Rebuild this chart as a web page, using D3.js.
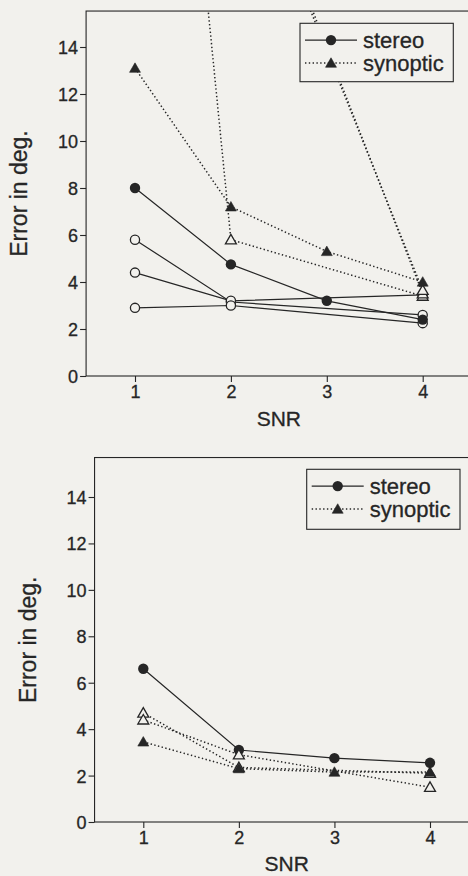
<!DOCTYPE html>
<html><head><meta charset="utf-8">
<script src="https://cdn.jsdelivr.net/npm/d3@7"></script>
<style>body{margin:0;background:#f2f1ed}svg{display:block}</style>
</head><body><svg id="c" width="468" height="876"></svg>
<script>
// ---------- data ----------
const snr = [1, 2, 3, 4];
const xTickLabels = ["1", "2", "3", "4"];
const yTickValues = [0, 2, 4, 6, 8, 10, 12, 14];
const legendLabels = ["stereo", "synoptic"];
const xTitle = "SNR";
const yTitle = "Error in deg.";

// top panel (null = no measurement at that SNR)
const topStereoFilled   = [8.0, 4.75, 3.2, 2.4];
const topStereoOpenA    = [5.8, 3.15, null, 2.6];
const topStereoOpenB    = [4.4, 3.2, null, 3.45];
const topStereoOpenC    = [2.9, 3.0, null, 2.25];
const topSynopticFilled = [13.1, 7.2, 5.3, 4.0];
const topSynopticOpenA  = [47, 5.8, null, 3.4];
const topSynopticOpenB  = [60, 24.5, null, 3.5];
const topSynopticOpenC  = [58, 24.0, null, 3.65];

// bottom panel
const botStereoFilled   = [6.6, 3.1, 2.75, 2.55];
const botSynopticFilled = [3.45, 2.3, 2.15, 2.15];
const botSynopticOpenA  = [4.7, 2.35, null, 2.1];
const botSynopticOpenB  = [4.4, 2.9, null, 1.5];

// ---------- drawing ----------
const INK = "#262626", BG = "#f2f1ed";
const FONT = "Liberation Sans, Arial, sans-serif";
const svg = d3.select("#c");
svg.append("rect").attr("width", 468).attr("height", 876).attr("fill", BG);

const panels = [
  { x1: 135, x4: 422.7, y0: 376, y14: 47, yTop: 15.53, xTitleY: 418, yTitleX: 19,
    legend: { x: 300, y: 23.3, w: 153.3, h: 58.4 },
    series: [
      { v: topStereoOpenA, kind: "stereo", filled: false },
      { v: topStereoOpenB, kind: "stereo", filled: false },
      { v: topStereoOpenC, kind: "stereo", filled: false },
      { v: topStereoFilled, kind: "stereo", filled: true },
      { v: topSynopticOpenA, kind: "synoptic", filled: false },
      { v: topSynopticOpenB, kind: "synoptic", filled: false },
      { v: topSynopticOpenC, kind: "synoptic", filled: false },
      { v: topSynopticFilled, kind: "synoptic", filled: true }
    ] },
  { x1: 143.3, x4: 430, y0: 822, y14: 497, yTop: 15.7, xTitleY: 863.5, yTitleX: 27.5,
    legend: { x: 306.7, y: 469.3, w: 153.3, h: 60 },
    series: [
      { v: botStereoFilled, kind: "stereo", filled: true },
      { v: botSynopticOpenA, kind: "synoptic", filled: false },
      { v: botSynopticOpenB, kind: "synoptic", filled: false },
      { v: botSynopticFilled, kind: "synoptic", filled: true }
    ] }
];

const triangle = d3.symbol().type(d3.symbolTriangle).size(52);

function marker(g, kind, filled, cx, cy) {
  if (kind === "stereo") {
    g.append("circle").attr("cx", cx).attr("cy", cy)
      .attr("r", filled ? 5.2 : 4.6)
      .attr("fill", filled ? INK : BG)
      .attr("stroke", INK).attr("stroke-width", filled ? 0 : 1.3);
  } else {
    g.append("path").attr("d", triangle)
      .attr("transform", `translate(${cx},${cy + 1})`)
      .attr("fill", filled ? INK : BG)
      .attr("stroke", INK).attr("stroke-width", filled ? 0.6 : 1.3);
  }
}
function lineStyle(sel, kind) {
  sel.attr("fill", "none").attr("stroke", INK)
    .attr("stroke-width", kind === "stereo" ? 1.2 : 1.5)
    .attr("stroke-dasharray", kind === "stereo" ? null : "1.4,2.4");
}
function ink(sel, size) {
  sel.attr("fill", INK).attr("stroke", INK).attr("stroke-width", 0.3)
    .attr("font-family", FONT).attr("font-size", size);
}

panels.forEach((p, i) => {
  const x = d3.scaleLinear().domain([1, 4]).range([p.x1, p.x4]);
  const y = d3.scaleLinear().domain([0, 14]).range([p.y0, p.y14]);
  const left = x(0.49), right = x(4.52), top = y(p.yTop), bottom = y(0);
  const g = svg.append("g");

  const clipId = "clip" + i;
  svg.append("clipPath").attr("id", clipId).append("rect")
    .attr("x", left).attr("y", top).attr("width", right - left).attr("height", bottom - top);

  // axes
  const ya = g.append("g").attr("transform", `translate(${left},0)`)
    .call(d3.axisLeft(y).tickValues(yTickValues).tickSize(6).tickPadding(2).tickFormat(d3.format("d")));
  const xa = g.append("g").attr("transform", `translate(0,${bottom})`)
    .call(d3.axisBottom(x).tickValues(snr).tickSize(6).tickPadding(3).tickFormat((d, k) => xTickLabels[k]));
  [ya, xa].forEach(a => {
    a.select(".domain").remove();
    a.selectAll("line").attr("stroke", INK).attr("stroke-width", 1.1);
    a.selectAll("text").call(ink, 18);
  });
  ya.selectAll("text").attr("dy", "0.36em");

  // frame
  g.append("rect").attr("x", left).attr("y", top).attr("width", right - left).attr("height", bottom - top)
    .attr("fill", "none").attr("stroke", INK).attr("stroke-width", 1.1);

  // titles
  g.append("text").attr("x", (x(1) + x(4)) / 2).attr("y", p.xTitleY).attr("dy", "0.36em")
    .attr("text-anchor", "middle").call(ink, 21).text(xTitle);
  g.append("text").attr("transform", `translate(${p.yTitleX},${(top + bottom) / 2}) rotate(-90)`)
    .attr("dy", "0.36em").attr("text-anchor", "middle").call(ink, 23).text(yTitle);

  // series
  const plot = g.append("g").attr("clip-path", `url(#${clipId})`);
  const line = d3.line().x(d => x(d.s)).y(d => y(d.v));
  p.series.forEach(s => {
    const pts = snr.map((sv, k) => ({ s: sv, v: s.v[k] })).filter(d => d.v !== null);
    plot.append("path").datum(pts).attr("d", line).call(lineStyle, s.kind);
  });
  p.series.forEach(s => {
    snr.forEach((sv, k) => {
      if (s.v[k] !== null) marker(plot, s.kind, s.filled, x(sv), y(s.v[k]));
    });
  });

  // legend
  const L = p.legend;
  const lg = g.append("g");
  lg.append("rect").attr("x", L.x).attr("y", L.y).attr("width", L.w).attr("height", L.h)
    .attr("fill", BG).attr("stroke", INK).attr("stroke-width", 1.1);
  ["stereo", "synoptic"].forEach((kind, k) => {
    const ry = L.y + 16.8 + k * 23;
    lg.append("line").attr("x1", L.x + 5).attr("x2", L.x + 57).attr("y1", ry).attr("y2", ry).call(lineStyle, kind);
    marker(lg, kind, true, L.x + 31, ry);
    lg.append("text").attr("x", L.x + 63).attr("y", ry).attr("dy", "0.36em").call(ink, 22).text(legendLabels[k]);
  });
});
</script>
</body></html>
